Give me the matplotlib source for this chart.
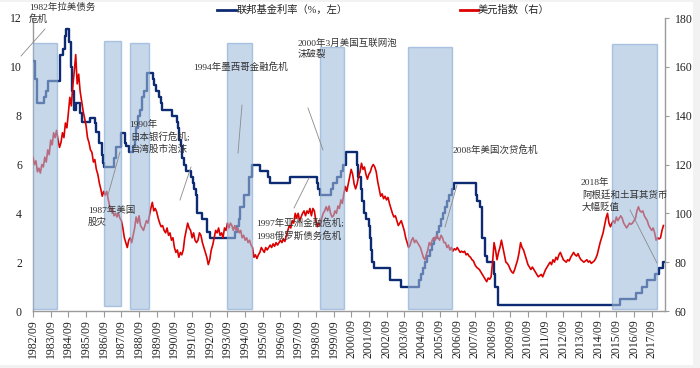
import numpy as np
import matplotlib
matplotlib.use('Agg')
import matplotlib.pyplot as plt
from matplotlib.patches import Rectangle
from matplotlib.lines import Line2D

plt.rcParams['font.family'] = ['Liberation Serif', 'Noto Sans CJK SC', 'DejaVu Sans']

# ---------------- data ----------------
# Fed funds rate (% , left axis), step changes: date (decimal year) -> rate
fed_dates = [1982.67, 1982.78, 1982.9, 1983.3, 1983.4, 1983.5, 1984.22, 1984.35, 1984.45, 1984.55,
             1984.7, 1984.8, 1984.88, 1984.97, 1985.1, 1985.3, 1985.45, 1985.9, 1986.15, 1986.25,
             1986.4, 1986.55, 1986.62, 1986.67, 1987.25, 1987.35, 1987.65, 1987.85, 1987.95, 1988.1,
             1988.3, 1988.42, 1988.5, 1988.62, 1988.7, 1988.85, 1988.95, 1989.1, 1989.45, 1989.53,
             1989.6, 1989.8, 1989.88, 1989.95, 1990.55, 1990.8, 1990.88, 1990.95, 1991.05, 1991.12,
             1991.2, 1991.3, 1991.6, 1991.7, 1991.8, 1991.88, 1991.95, 1992.25, 1992.5, 1992.7,
             1994.08, 1994.2, 1994.3, 1994.38, 1994.62, 1994.88, 1995.08, 1995.5, 1995.95, 1996.08,
             1997.22, 1998.75, 1998.8, 1998.88, 1999.5, 1999.65, 1999.88, 2000.1, 2000.22, 2000.38,
             2001.0, 2001.08, 2001.22, 2001.3, 2001.38, 2001.48, 2001.65, 2001.72, 2001.8, 2001.85,
             2001.95, 2002.85, 2003.48, 2004.5, 2004.62, 2004.72, 2004.85, 2004.95, 2005.1, 2005.22,
             2005.35, 2005.5, 2005.62, 2005.72, 2005.85, 2005.95, 2006.08, 2006.22, 2006.35, 2006.5,
             2007.72, 2007.8, 2007.95, 2008.05, 2008.08, 2008.22, 2008.33, 2008.77, 2008.83, 2008.96,
             2015.87, 2016.8, 2017.1, 2017.4, 2017.85, 2018.1, 2018.28, 2018.35]
fed_rates = [10.25, 9.5, 8.5, 8.75, 9.0, 9.4, 10.5, 10.75, 11.25, 11.55,
             11.0, 10.0, 9.0, 8.25, 8.5, 8.1, 7.75, 7.9, 7.7, 7.35,
             6.9, 6.4, 6.05, 5.9, 6.25, 6.7, 7.3, 6.9, 6.75, 6.5,
             6.75, 7.0, 7.5, 8.0, 8.25, 8.75, 9.0, 9.75, 9.5, 9.25,
             9.0, 8.75, 8.5, 8.25, 8.0, 7.75, 7.5, 7.0, 6.75, 6.25,
             6.0, 5.75, 5.5, 5.25, 5.0, 4.75, 4.0, 3.75, 3.25, 3.0,
             3.25, 3.5, 3.75, 4.25, 4.75, 5.5, 6.0, 5.75, 5.5, 5.25,
             5.5, 5.25, 5.0, 4.75, 5.0, 5.25, 5.5, 5.75, 6.0, 6.5,
             6.0, 5.5, 5.0, 4.5, 4.0, 3.75, 3.5, 3.0, 2.5, 2.0,
             1.75, 1.25, 1.0, 1.25, 1.5, 1.75, 2.0, 2.25, 2.5, 2.75,
             3.0, 3.25, 3.5, 3.75, 4.0, 4.25, 4.5, 4.75, 5.0, 5.25,
             4.75, 4.5, 4.25, 3.5, 3.0, 2.25, 2.0, 1.5, 1.0, 0.25,
             0.5, 0.75, 1.0, 1.25, 1.5, 1.75, 2.0, 2.0]

# US dollar index (right axis), monthly from 1982/09
dxy_start = 1982 + 8 / 12
dxy_1982 = [123, 120, 121.5, 117]
dxy_1983 = [118.5, 116.5, 120, 119, 123, 121, 126, 124, 130, 128, 133, 131]
dxy_1984 = [134, 130, 127, 129, 133, 131, 137, 135, 141, 147.5, 144, 152]
dxy_1985 = [158, 165, 153, 157, 150, 146, 142, 139, 136, 131, 129, 126]
dxy_1986 = [125, 121, 122, 118, 116, 112.5, 110, 107, 109, 107.5, 109, 106]
dxy_1987 = [103, 101, 102, 99, 100, 98.5, 100, 98, 97, 94, 90, 88]
dxy_1988 = [86, 89, 90, 88, 91, 94, 98.5, 96, 99, 95, 94, 93]
dxy_1989 = [95, 97, 96, 99, 102, 104.5, 101, 102, 100.5, 98, 96, 94.5]
dxy_1990 = [95, 93, 92, 94, 91, 92, 89, 90, 86, 84, 85, 82]
dxy_1991 = [84, 83, 85, 90, 93, 96, 94, 93, 90, 92, 89, 88]
dxy_1992 = [89, 92, 91, 88, 86, 84, 82, 79, 81, 85, 87, 90]
dxy_1993 = [93, 92, 94, 91, 92, 90, 94, 93, 96, 94, 96, 95]
dxy_1994 = [93, 95, 93, 94, 92, 93, 90, 91, 89, 90, 88, 89]
dxy_1995 = [87, 86, 82, 83, 81.5, 83, 84, 86, 85, 84, 86, 85]
dxy_1996 = [86, 87, 86, 87.5, 86.5, 88, 87, 88, 89, 88, 89.5, 88.5]
dxy_1997 = [91, 93, 95, 94, 97, 96, 100, 98, 100, 97, 98.5, 100]
dxy_1998 = [101, 99, 101, 100, 102, 99, 102, 101, 97, 94.5, 96, 95]
dxy_1999 = [98, 100, 101, 102.7, 101, 103, 100, 98.5, 99, 101, 100, 103]
dxy_2000 = [102, 105.5, 104, 108, 111, 109, 112, 115, 118, 116, 112, 110]
dxy_2001 = [112, 115, 117, 120.5, 118, 119, 116, 114, 116, 117, 119, 120]
dxy_2002 = [119, 117, 113, 110, 107, 108, 106, 107, 105.5, 106.5, 104, 102]
dxy_2003 = [100, 98.5, 99, 97, 95, 96, 97, 95, 93, 90, 88, 86]
dxy_2004 = [87, 89, 90, 88, 89, 88, 87, 86, 84, 82, 81, 83]
dxy_2005 = [85, 88, 87, 89, 90, 89, 91, 90, 89, 91, 90, 88]
dxy_2006 = [88, 86, 87, 85, 86, 84.5, 85.5, 85, 86, 85, 84, 84.5]
dxy_2007 = [84, 84.5, 83, 83.5, 82.5, 82, 81, 80.5, 79, 78, 77.5, 77]
dxy_2008 = [76, 75, 74, 73, 72, 73.5, 73, 74, 80, 88, 85, 81]
dxy_2009 = [84, 86, 89, 86, 83, 80, 79.5, 78.5, 77, 76, 75.5, 77]
dxy_2010 = [79, 81, 84, 88, 86, 85, 83, 81, 79, 78, 77, 78]
dxy_2011 = [77, 76, 75, 74, 74.5, 75, 74, 75.5, 77, 78, 79, 80]
dxy_2012 = [79, 81, 80, 82, 81, 83, 84, 82.5, 81, 80.5, 80, 81]
dxy_2013 = [80.5, 82, 83, 84, 83, 82.5, 83.5, 82, 81, 80.5, 80, 80.5]
dxy_2014 = [81, 80, 80.5, 79.5, 80, 80.5, 81.5, 83, 85.5, 88, 90, 92]
dxy_2015 = [95, 98, 100, 96, 94.5, 96, 97, 96, 98.5, 97, 98, 99]
dxy_2016 = [98, 96, 95, 94, 95, 96, 95.5, 96, 97, 98, 101, 102.7]
dxy_2017 = [101, 100.5, 101, 99, 98, 97, 95, 94, 93, 94, 92, 89]
dxy_2018 = [90, 89.5, 90, 93, 95]

# crisis shading: start, end (decimal year), top (left-axis units), bottom
crisis_start = [1982.6, 1986.68, 1988.15, 1993.64, 1998.9, 2003.88, 2015.42]
crisis_end = [1984.05, 1987.65, 1989.23, 1995.05, 2000.26, 2006.37, 2017.96]
crisis_top = [10.97, 11.05, 10.97, 10.97, 10.8, 10.8, 10.93]
crisis_bottom = [0.08, 0.22, 0.08, 0.08, 0.08, 0.08, 0.08]

tick_years = list(range(1982, 2018))
tick_labels = [f"{y}/09" for y in tick_years]

# ---------------- figure ----------------
W, H = 700, 368
fig = plt.figure(figsize=(W / 100, H / 100), dpi=100)
fig.patch.set_facecolor('#f2f2f2')
fig.add_artist(Rectangle((0, 1 - 365 / H), 693 / W, 363 / H, transform=fig.transFigure,
                         facecolor='white', edgecolor='none', zorder=-10))

def fx(px):
    return px / W

def fy(py):
    return 1 - py / H

ax = fig.add_axes([fx(33), fy(311), (665 - 33) / W, (311 - 18) / H])
ax.patch.set_visible(False)
ax2 = ax.twinx()

dxy_vals = (dxy_1982 + dxy_1983 + dxy_1984 + dxy_1985 + dxy_1986 + dxy_1987 + dxy_1988 +
            dxy_1989 + dxy_1990 + dxy_1991 + dxy_1992 + dxy_1993 + dxy_1994 + dxy_1995 +
            dxy_1996 + dxy_1997 + dxy_1998 + dxy_1999 + dxy_2000 + dxy_2001 + dxy_2002 +
            dxy_2003 + dxy_2004 + dxy_2005 + dxy_2006 + dxy_2007 + dxy_2008 + dxy_2009 +
            dxy_2010 + dxy_2011 + dxy_2012 + dxy_2013 + dxy_2014 + dxy_2015 + dxy_2016 +
            dxy_2017 + dxy_2018)
dxy_dates = dxy_start + np.arange(len(dxy_vals)) / 12

blue = '#0d2b72'
red = '#dc0000'

ax.step(fed_dates, fed_rates, where='post', color=blue, lw=1.7, zorder=3)
ax2.plot(dxy_dates, dxy_vals, color=red, lw=1.2, zorder=2)

for s, e, t, b in zip(crisis_start, crisis_end, crisis_top, crisis_bottom):
    r = Rectangle((s, b), e - s, t - b, transform=ax.transData,
                  facecolor='#9ebbdc', alpha=0.58, edgecolor='#7fa3d2', lw=1.0, zorder=5)
    ax2.add_patch(r)

ax.set_xlim(1982 + 8 / 12, 2018.42)
ax.set_ylim(0, 12)
ax2.set_ylim(60, 180)
ax.set_yticks(range(0, 13, 2))
ax2.set_yticks(range(60, 181, 20))
ax.set_xticks([y + 8 / 12 for y in tick_years])
ax.set_xticklabels(tick_labels, rotation=90, fontsize=8.5, color='#222222')

for a in (ax, ax2):
    a.spines['top'].set_visible(False)
ax.spines['right'].set_visible(False)
ax2.spines['left'].set_visible(False)
ax2.spines['bottom'].set_visible(False)
for sp in (ax.spines['left'], ax.spines['bottom'], ax2.spines['right']):
    sp.set_color('#9a9a9a')
    sp.set_linewidth(1.0)

ax.tick_params(axis='x', direction='out', length=4, width=0.8, color='#9a9a9a', pad=2)
ax.tick_params(axis='y', direction='out', length=0, pad=8, labelsize=8.5, labelcolor='#222222')
ax2.tick_params(axis='y', direction='out', length=3, width=0.8, color='#9a9a9a', pad=4,
                labelsize=8.5, labelcolor='#222222')

# ---------------- legend ----------------
fig.add_artist(Line2D([fx(217), fx(236)], [fy(10), fy(10)], color=blue, lw=2, transform=fig.transFigure))
fig.text(fx(237), fy(10), '联邦基金利率（%，左）', fontsize=7.4, va='center', ha='left', color='#222222')
fig.add_artist(Line2D([fx(460), fx(478)], [fy(10), fy(10)], color=red, lw=2, transform=fig.transFigure))
fig.text(fx(478), fy(10), '美元指数（右）', fontsize=7.4, va='center', ha='left', color='#222222')

# ---------------- annotations ----------------
ann_color = '#333333'
lead_color = '#8a8a8a'

def note(px, py, s):
    fig.text(fx(px), fy(py), s, fontsize=6.8, va='center', ha='left', color=ann_color)

def lead(x0, y0, x1, y1):
    fig.add_artist(Line2D([fx(x0), fx(x1)], [fy(y0), fy(y1)], color=lead_color, lw=0.6,
                          transform=fig.transFigure, zorder=6))

note(29, 7, '1982年拉美债务')
note(29, 19, '危机')
lead(21, 56, 45, 29)

note(193, 67, '1994年墨西哥金融危机')
lead(242, 105, 238, 153)

note(298, 43, '2000年3月美国互联网泡')
note(298, 55, '沫破裂')
lead(308, 108, 323, 150)

note(129, 125, '1990年')
note(130, 137, '日本银行危机;')
note(130, 149, '台湾股市泡沫')
lead(191, 167, 180, 200)

note(88, 210, '1987年美国')
note(88, 222, '股灾')
lead(108, 195, 120, 152)

note(256, 223, '1997年亚洲金融危机;')
note(256, 236, '1998俄罗斯债务危机')
lead(294, 208, 309, 178)

note(453, 150, '2008年美国次贷危机')
lead(457, 185, 445, 227)

note(581, 183, '2018年')
note(582, 195, '阿根廷和土耳其货币')
note(582, 207, '大幅贬值')
lead(630, 210, 657, 263)

fig.savefig('out.png', dpi=100, facecolor=fig.get_facecolor())
